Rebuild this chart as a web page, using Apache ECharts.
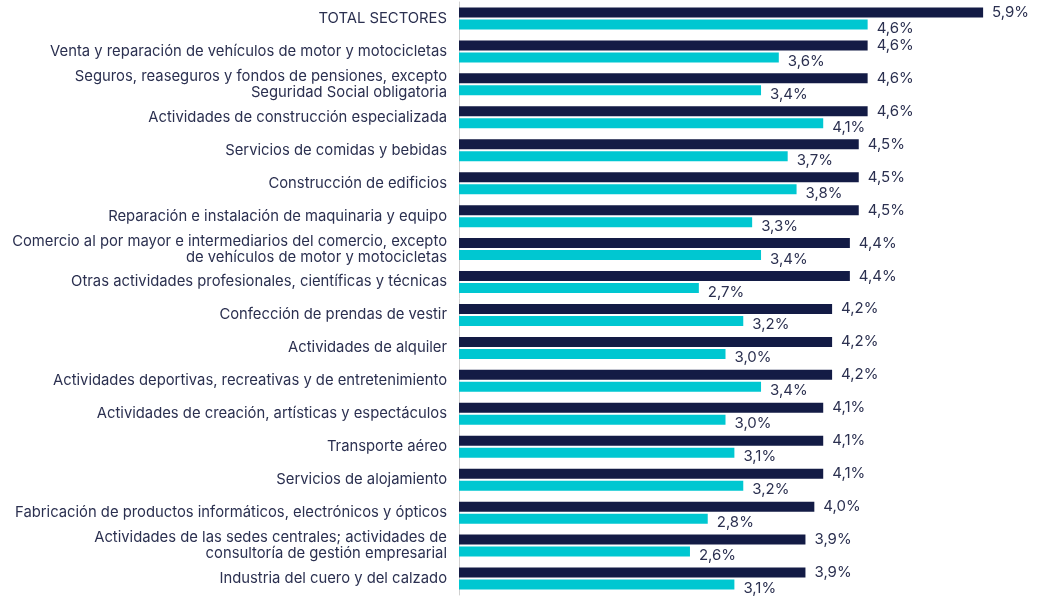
<!DOCTYPE html>
<html>
<head>
<meta charset="utf-8">
<script src="https://cdn.jsdelivr.net/npm/echarts@6/dist/echarts.min.js"></script>
<style>html,body{margin:0;padding:0;background:#fff}#c{width:1038px;height:596px}</style>
</head>
<body>
<div id="c"></div>
<script>
const categories = [
  "TOTAL SECTORES",
  "Venta y reparación de vehículos de motor y motocicletas",
  "Seguros, reaseguros y fondos de pensiones, excepto\nSeguridad Social obligatoria",
  "Actividades de construcción especializada",
  "Servicios de comidas y bebidas",
  "Construcción de edificios",
  "Reparación e instalación de maquinaria y equipo",
  "Comercio al por mayor e intermediarios del comercio, excepto\nde vehículos de motor y motocicletas",
  "Otras actividades profesionales, científicas y técnicas",
  "Confección de prendas de vestir",
  "Actividades de alquiler",
  "Actividades deportivas, recreativas y de entretenimiento",
  "Actividades de creación, artísticas y espectáculos",
  "Transporte aéreo",
  "Servicios de alojamiento",
  "Fabricación de productos informáticos, electrónicos y ópticos",
  "Actividades de las sedes centrales; actividades de\nconsultoría de gestión empresarial",
  "Industria del cuero y del calzado"
];
const seriesDark = [5.9,4.6,4.6,4.6,4.5,4.5,4.5,4.4,4.4,4.2,4.2,4.2,4.1,4.1,4.1,4.0,3.9,3.9];
const seriesCyan = [4.6,3.6,3.4,4.1,3.7,3.8,3.3,3.4,2.7,3.2,3.0,3.4,3.0,3.1,3.2,2.8,2.6,3.1];

const fmt = p => p.value.toFixed(1).replace('.', ',') + '%';
const FONT = 'Inter';
const TXT = '#2B3050';

const chart = echarts.init(document.getElementById('c'), null, {renderer: 'canvas'});
chart.setOption({
  animation: false,
  textStyle: {fontFamily: FONT},
  grid: {left: 459, right: 46, top: 2, bottom: 1, containLabel: false},
  xAxis: {
    type: 'value', min: 0, max: 6,
    show: false
  },
  yAxis: {
    type: 'category', data: categories, inverse: true,
    axisLine: {show: true, lineStyle: {color: '#D0D0D0', width: 1}},
    axisTick: {show: false},
    axisLabel: {color: TXT, fontSize: 14.8, fontFamily: FONT, margin: 12, lineHeight: 16, align: 'right', padding: [0, 0, 4, 0]}
  },
  series: [
    {
      type: 'bar', data: seriesDark, barWidth: 10, barGap: '20%',
      itemStyle: {color: '#131B45'},
      label: {show: true, position: 'right', distance: 9, formatter: fmt, color: TXT, fontSize: 15, fontFamily: FONT, offset: [0, 0]}
    },
    {
      type: 'bar', data: seriesCyan, barWidth: 10,
      itemStyle: {color: '#00C7D1'},
      label: {show: true, position: 'right', distance: 9, formatter: fmt, color: TXT, fontSize: 15, fontFamily: FONT, offset: [0, 4]}
    }
  ]
});
</script>
</body>
</html>
